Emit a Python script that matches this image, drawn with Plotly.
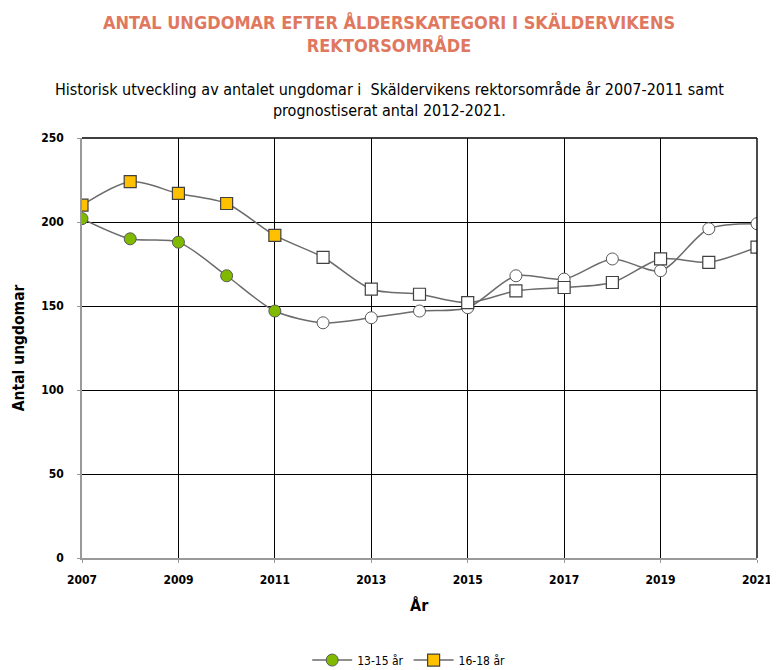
import plotly.graph_objects as go

# Data #
years = list(range(2007, 2022))
age_13_15 = [202, 190, 188, 168, 147, 140, 143, 147, 149, 168, 166, 178, 171, 196, 199]
age_16_18 = [210, 224, 217, 211, 192, 179, 160, 157, 152, 159, 161, 164, 178, 176, 185]
historic_years = 5  # 2007-2011 are historic, the rest is prognosis
x_ticks = list(range(2007, 2022, 2))
y_ticks = [0, 50, 100, 150, 200, 250]

title_text = "<b>ANTAL UNGDOMAR EFTER ÅLDERSKATEGORI I SKÄLDERVIKENS<br>REKTORSOMRÅDE</b>"
subtitle_text = ("Historisk utveckling av antalet ungdomar i  Skäldervikens rektorsområde år 2007-2011 samt"
                 "<br>prognostiserat antal 2012-2021.")

FONT = "DejaVu Sans Condensed, DejaVu Sans, sans-serif"

def marker_colors(fill, n):
    return [fill if i < historic_years else "white" for i in range(n)]

fig = go.Figure()

fig.add_trace(go.Scatter(
    x=years,
    y=age_13_15,
    name="13-15 år",
    mode="lines+markers",
    line=dict(color="#6b6b6b", width=1.5, shape="spline", smoothing=0.8),
    marker=dict(
        symbol="circle",
        size=12,
        color=marker_colors("#7fba00", len(years)),
        line=dict(color="#5a5a5a", width=1)
    )
))

fig.add_trace(go.Scatter(
    x=years,
    y=age_16_18,
    name="16-18 år",
    mode="lines+markers",
    line=dict(color="#6b6b6b", width=1.5, shape="spline", smoothing=0.8),
    marker=dict(
        symbol="square",
        size=12,
        color=marker_colors("#ffc000", len(years)),
        line=dict(color="#404040", width=1.2)
    )
))

# page body has an 8px margin, so the figure is sized 8px smaller
fig.update_layout(
    width=770,
    height=662,
    paper_bgcolor="white",
    plot_bgcolor="white",
    font=dict(family=FONT, color="black", size=12),
    showlegend=True,
    annotations=[
        dict(
            text=title_text,
            xref="paper", yref="paper",
            x=0.455, y=1.248,
            xanchor="center", yanchor="middle",
            showarrow=False,
            font=dict(family=FONT, size=18, color="#e07860")
        ),
        dict(
            text=subtitle_text,
            xref="paper", yref="paper",
            x=0.455, y=1.09,
            xanchor="center", yanchor="middle",
            showarrow=False,
            font=dict(family=FONT, size=16, color="black")
        ),
        dict(
            text="<b>Antal ungdomar</b>",
            xref="paper", yref="paper",
            x=-0.093, y=0.5,
            xanchor="center", yanchor="middle",
            textangle=-90,
            showarrow=False,
            font=dict(family=FONT, size=15.5, color="black")
        ),
        dict(
            text="<b>År</b>",
            xref="paper", yref="paper",
            x=0.5, y=-0.112,
            xanchor="center", yanchor="middle",
            showarrow=False,
            font=dict(family=FONT, size=16, color="black")
        )
    ],
    xaxis=dict(
        range=[2007, 2021],
        tickvals=x_ticks,
        showgrid=True,
        gridcolor="black",
        gridwidth=1.4,
        showline=True,
        linecolor="#999999",
        linewidth=1.5,
        ticks="outside",
        tickcolor="#999999",
        ticklen=3,
        ticklabelstandoff=7,
        tickfont=dict(family=FONT, size=12, color="black", weight="bold"),
        zeroline=False,
        automargin=False
    ),
    yaxis=dict(
        range=[0, 250],
        tickvals=y_ticks,
        showgrid=True,
        gridcolor="black",
        gridwidth=1.4,
        showline=True,
        linecolor="#999999",
        linewidth=1.5,
        ticks="outside",
        tickcolor="#999999",
        ticklen=3,
        ticklabelstandoff=11,
        tickfont=dict(family=FONT, size=12, color="black", weight="bold"),
        zeroline=False,
        automargin=False
    ),
    legend=dict(
        orientation="h",
        x=0.484,
        xanchor="center",
        y=-0.243,
        yanchor="middle",
        font=dict(family=FONT, size=12),
        itemwidth=40
    ),
    margin=dict(l=74, r=21, t=130, b=112, autoexpand=False)
)

# top and right border of plot area
fig.add_shape(type="line", xref="paper", yref="paper", x0=0, x1=1, y0=1, y1=1,
              line=dict(color="black", width=1.4))
fig.add_shape(type="line", xref="paper", yref="paper", x0=1, x1=1, y0=0, y1=1,
              line=dict(color="black", width=1.4))

fig.write_html("out.html")
